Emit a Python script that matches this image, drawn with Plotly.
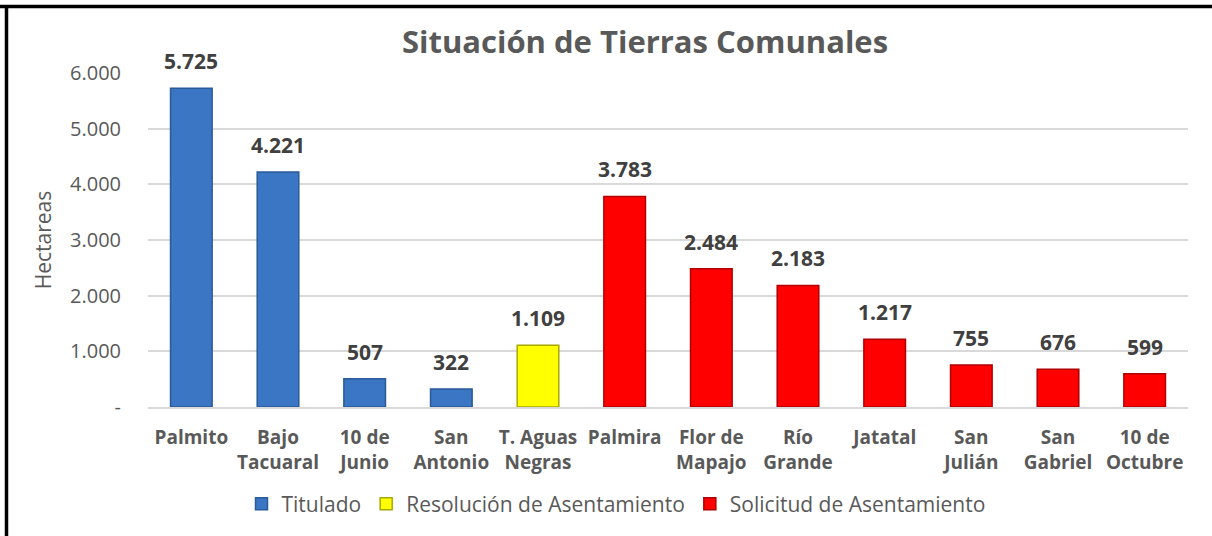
import plotly.graph_objects as go

categories = ["Palmito", "Bajo<br>Tacuaral", "10 de<br>Junio", "San<br>Antonio", "T. Aguas<br>Negras",
              "Palmira", "Flor de<br>Mapajo", "Río<br>Grande", "Jatatal", "San<br>Julián",
              "San<br>Gabriel", "10 de<br>Octubre"]
titulado_cats = categories[0:4]
titulado_vals = [5725, 4221, 507, 322]
resol_cats = categories[4:5]
resol_vals = [1109]
solic_cats = categories[5:]
solic_vals = [3783, 2484, 2183, 1217, 755, 676, 599]
tick_vals = [0, 1000, 2000, 3000, 4000, 5000, 6000]
tick_text = ["-", "1.000", "2.000", "3.000", "4.000", "5.000", "6.000"]

W, H = 1212, 536
ML, MR, MT, MB = 148, 24, 73, 129
FONT = "Open Sans"
GRAY = "#595959"

fig = go.Figure()
def add(name, x, y, color, edge):
    fig.add_trace(go.Bar(
        name=name, x=x, y=y, width=0.48,
        marker=dict(color=color, line=dict(color=edge, width=1.5)),
    ))
    for cx, cy in zip(x, y):
        fig.add_annotation(x=cx, y=cy, text="<b>" + f"{cy:,}".replace(",", ".") + "</b>",
                           showarrow=False, yanchor="bottom", yshift=11,
                           font=dict(family=FONT, size=21, color="#404040"))
add("Titulado", titulado_cats, titulado_vals, "#3b76c4", "#2a5a98")
add("Resolución de Asentamiento", resol_cats, resol_vals, "#ffff00", "#a8a800")
add("Solicitud de Asentamiento", solic_cats, solic_vals, "#ff0000", "#b00000")

def px_x(px):
    return (px - ML) / (W - ML - MR)
def px_y(py):
    return (H - MB - py) / (H - MT - MB)

fig.update_layout(
    width=W, height=H, separators=",.",
    margin=dict(l=ML, r=MR, t=MT, b=MB, autoexpand=False),
    paper_bgcolor="white", plot_bgcolor="white",
    barmode="overlay",
    title=dict(text="<b>Situación de Tierras Comunales</b>", x=645 / W, xanchor="center",
               y=1 - 42 / H, yanchor="middle",
               font=dict(family=FONT, size=31, color=GRAY)),
    xaxis=dict(categoryorder="array", categoryarray=categories, showgrid=False, automargin=False,
               showline=True, linecolor="#d9d9d9", linewidth=2, ticks="", ticklabelstandoff=12,
               tickfont=dict(family=FONT, size=19, color=GRAY, weight="bold")),
    yaxis=dict(range=[0, 6000], tickvals=tick_vals, ticktext=tick_text, automargin=False,
               showgrid=True, gridcolor="#d9d9d9", gridwidth=2, zeroline=False,
               tickfont=dict(family=FONT, size=20, color=GRAY), ticks="", ticklen=0,
               ticklabelstandoff=26,
               title=dict(text="Hectareas", font=dict(family=FONT, size=21, color=GRAY), standoff=12)),
    legend=dict(orientation="h", x=616 / W, xref="container", xanchor="center",
                y=1 - 504 / H, yref="container", yanchor="middle",
                font=dict(family=FONT, size=21, color=GRAY), itemwidth=30),
    showlegend=True,
    shapes=[
        dict(type="line", xref="paper", yref="paper", x0=px_x(0), x1=px_x(W), y0=px_y(6.5), y1=px_y(6.5),
             line=dict(color="black", width=3.5)),
        dict(type="line", xref="paper", yref="paper", x0=px_x(6.5), x1=px_x(6.5), y0=px_y(5), y1=px_y(H),
             line=dict(color="black", width=3.5)),
    ],
)
fig.write_html("out.html", config={"displayModeBar": False},
               post_script="document.body.style.margin='0';document.body.style.overflow='hidden';")
